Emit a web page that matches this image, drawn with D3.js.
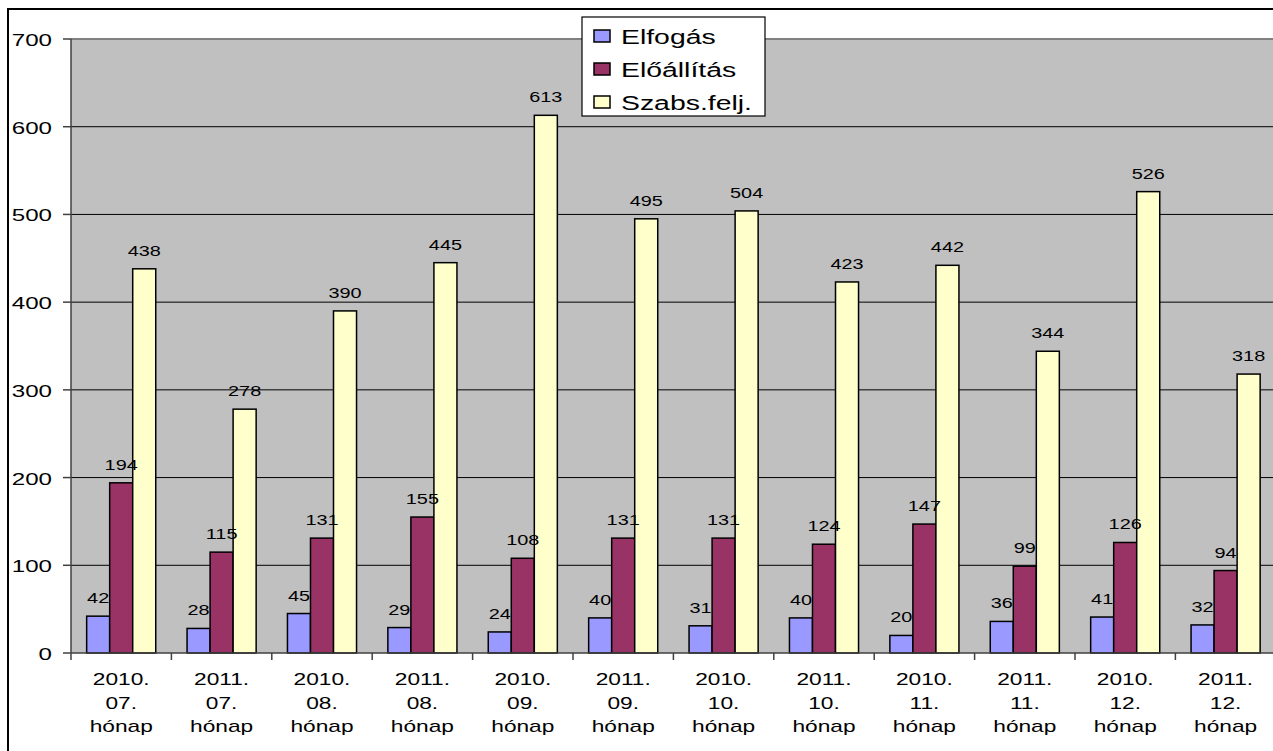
<!DOCTYPE html>
<html>
<head>
<meta charset="utf-8">
<script src="https://cdn.jsdelivr.net/npm/d3@7"></script>
<style>
  html, body { margin: 0; padding: 0; background: #fff; }
  svg { display: block; }
  text { font-family: "Liberation Sans", Arial, sans-serif; fill: #000; }
</style>
</head>
<body>
<svg id="chart" width="1273" height="751"></svg>
<script>
// data
const categories = [
  ["2010.", "07.", "hónap"], ["2011.", "07.", "hónap"],
  ["2010.", "08.", "hónap"], ["2011.", "08.", "hónap"],
  ["2010.", "09.", "hónap"], ["2011.", "09.", "hónap"],
  ["2010.", "10.", "hónap"], ["2011.", "10.", "hónap"],
  ["2010.", "11.", "hónap"], ["2011.", "11.", "hónap"],
  ["2010.", "12.", "hónap"], ["2011.", "12.", "hónap"]
];
const seriesNames = ["Elfogás", "Előállítás", "Szabs.felj."];
const elfogas     = [42, 28, 45, 29, 24, 40, 31, 40, 20, 36, 41, 32];
const eloallitas  = [194, 115, 131, 155, 108, 131, 131, 124, 147, 99, 126, 94];
const szabsfelj   = [438, 278, 390, 445, 613, 495, 504, 423, 442, 344, 526, 318];
const yTicks = [0, 100, 200, 300, 400, 500, 600, 700];

const colors = ["#9999FF", "#993366", "#FFFFCC"];
const seriesValues = [elfogas, eloallitas, szabsfelj];

const svg = d3.select("#chart");
const SX = 1.42; // the reference text is stretched horizontally

// plot area
const pLeft = 71, pTop = 39, pBottom = 653, catW = 100.4;
const pRight = pLeft + catW * categories.length;

const x = d3.scaleBand().domain(d3.range(categories.length)).range([pLeft, pRight]).padding(0);
const xSub = d3.scaleBand().domain(d3.range(seriesNames.length)).range([0, x.bandwidth()]).paddingOuter(0.68);
const y = d3.scaleLinear().domain([0, 700]).range([pBottom, pTop]);

// stretched text helper
function sText(g, tx, ty, str, size, anchor) {
  return g.append("text")
    .attr("transform", `translate(${tx},${ty}) scale(${SX},1)`)
    .attr("text-anchor", anchor || "middle")
    .attr("font-size", size)
    .text(str);
}

// outer border (chart is cropped on the right and bottom)
svg.append("rect")
  .attr("x", 8).attr("y", 9).attr("width", 1400).attr("height", 900)
  .attr("fill", "#fff").attr("stroke", "#000").attr("stroke-width", 2);

// plot background
svg.append("rect")
  .attr("x", pLeft).attr("y", pTop).attr("width", pRight - pLeft).attr("height", pBottom - pTop)
  .attr("fill", "#C0C0C0");

// gridlines
svg.append("g").selectAll("line").data(yTicks.filter(d => d > 0)).join("line")
  .attr("x1", pLeft).attr("x2", pRight)
  .attr("y1", d => y(d)).attr("y2", d => y(d))
  .attr("stroke", d => d === 700 ? "#808080" : "#000").attr("stroke-width", d => d === 700 ? 2 : 1);

// y axis
const yAxis = svg.append("g");
yAxis.append("line").attr("x1", pLeft).attr("x2", pLeft).attr("y1", pTop).attr("y2", pBottom)
  .attr("stroke", "#404040").attr("stroke-width", 1.5);
yAxis.selectAll("line.tick").data(yTicks).join("line").attr("class", "tick")
  .attr("x1", pLeft - 8).attr("x2", pLeft).attr("y1", d => y(d)).attr("y2", d => y(d))
  .attr("stroke", "#404040").attr("stroke-width", 1.5);
yTicks.forEach(t => sText(yAxis, 52, y(t) + 7, String(t), 17, "end"));

// bars
const gBars = svg.append("g");
seriesValues.forEach((vals, s) => {
  gBars.selectAll(null).data(vals).join("rect")
    .attr("x", (d, i) => x(i) + xSub(s))
    .attr("y", d => y(d))
    .attr("width", xSub.bandwidth())
    .attr("height", d => y(0) - y(d))
    .attr("fill", colors[s])
    .attr("stroke", "#000").attr("stroke-width", 1.5);
});

// value labels
const gLabels = svg.append("g");
seriesValues.forEach((vals, s) => {
  vals.forEach((v, i) => {
    sText(gLabels, x(i) + xSub(s) + xSub.bandwidth() / 2, y(v) - 13, String(v), 14, "middle")
      .attr("fill", "#1a1a1a");
  });
});

// x axis
const xAxis = svg.append("g");
xAxis.append("line").attr("x1", pLeft).attr("x2", pRight).attr("y1", pBottom).attr("y2", pBottom)
  .attr("stroke", "#404040").attr("stroke-width", 1.5);
xAxis.selectAll("line.tick").data(d3.range(categories.length + 1)).join("line").attr("class", "tick")
  .attr("x1", d => pLeft + d * x.step()).attr("x2", d => pLeft + d * x.step())
  .attr("y1", pBottom).attr("y2", pBottom + 7)
  .attr("stroke", "#404040").attr("stroke-width", 1.5);
categories.forEach((lines, i) => {
  const cx = x(i) + x.bandwidth() / 2;
  lines.forEach((ln, k) => sText(xAxis, cx, 685 + k * 23.5, ln, 16, "middle"));
});

// legend
const lg = svg.append("g");
lg.append("rect").attr("x", 582).attr("y", 17).attr("width", 183).attr("height", 99)
  .attr("fill", "#fff").attr("stroke", "#000").attr("stroke-width", 1.2);
seriesNames.forEach((name, s) => {
  const cy = 36 + s * 33;
  lg.append("rect").attr("x", 594).attr("y", cy - 6).attr("width", 16).attr("height", 12)
    .attr("fill", colors[s]).attr("stroke", "#000").attr("stroke-width", 1.5);
  sText(lg, 621, cy + 7.5, name, 20, "start");
});
</script>
</body>
</html>
